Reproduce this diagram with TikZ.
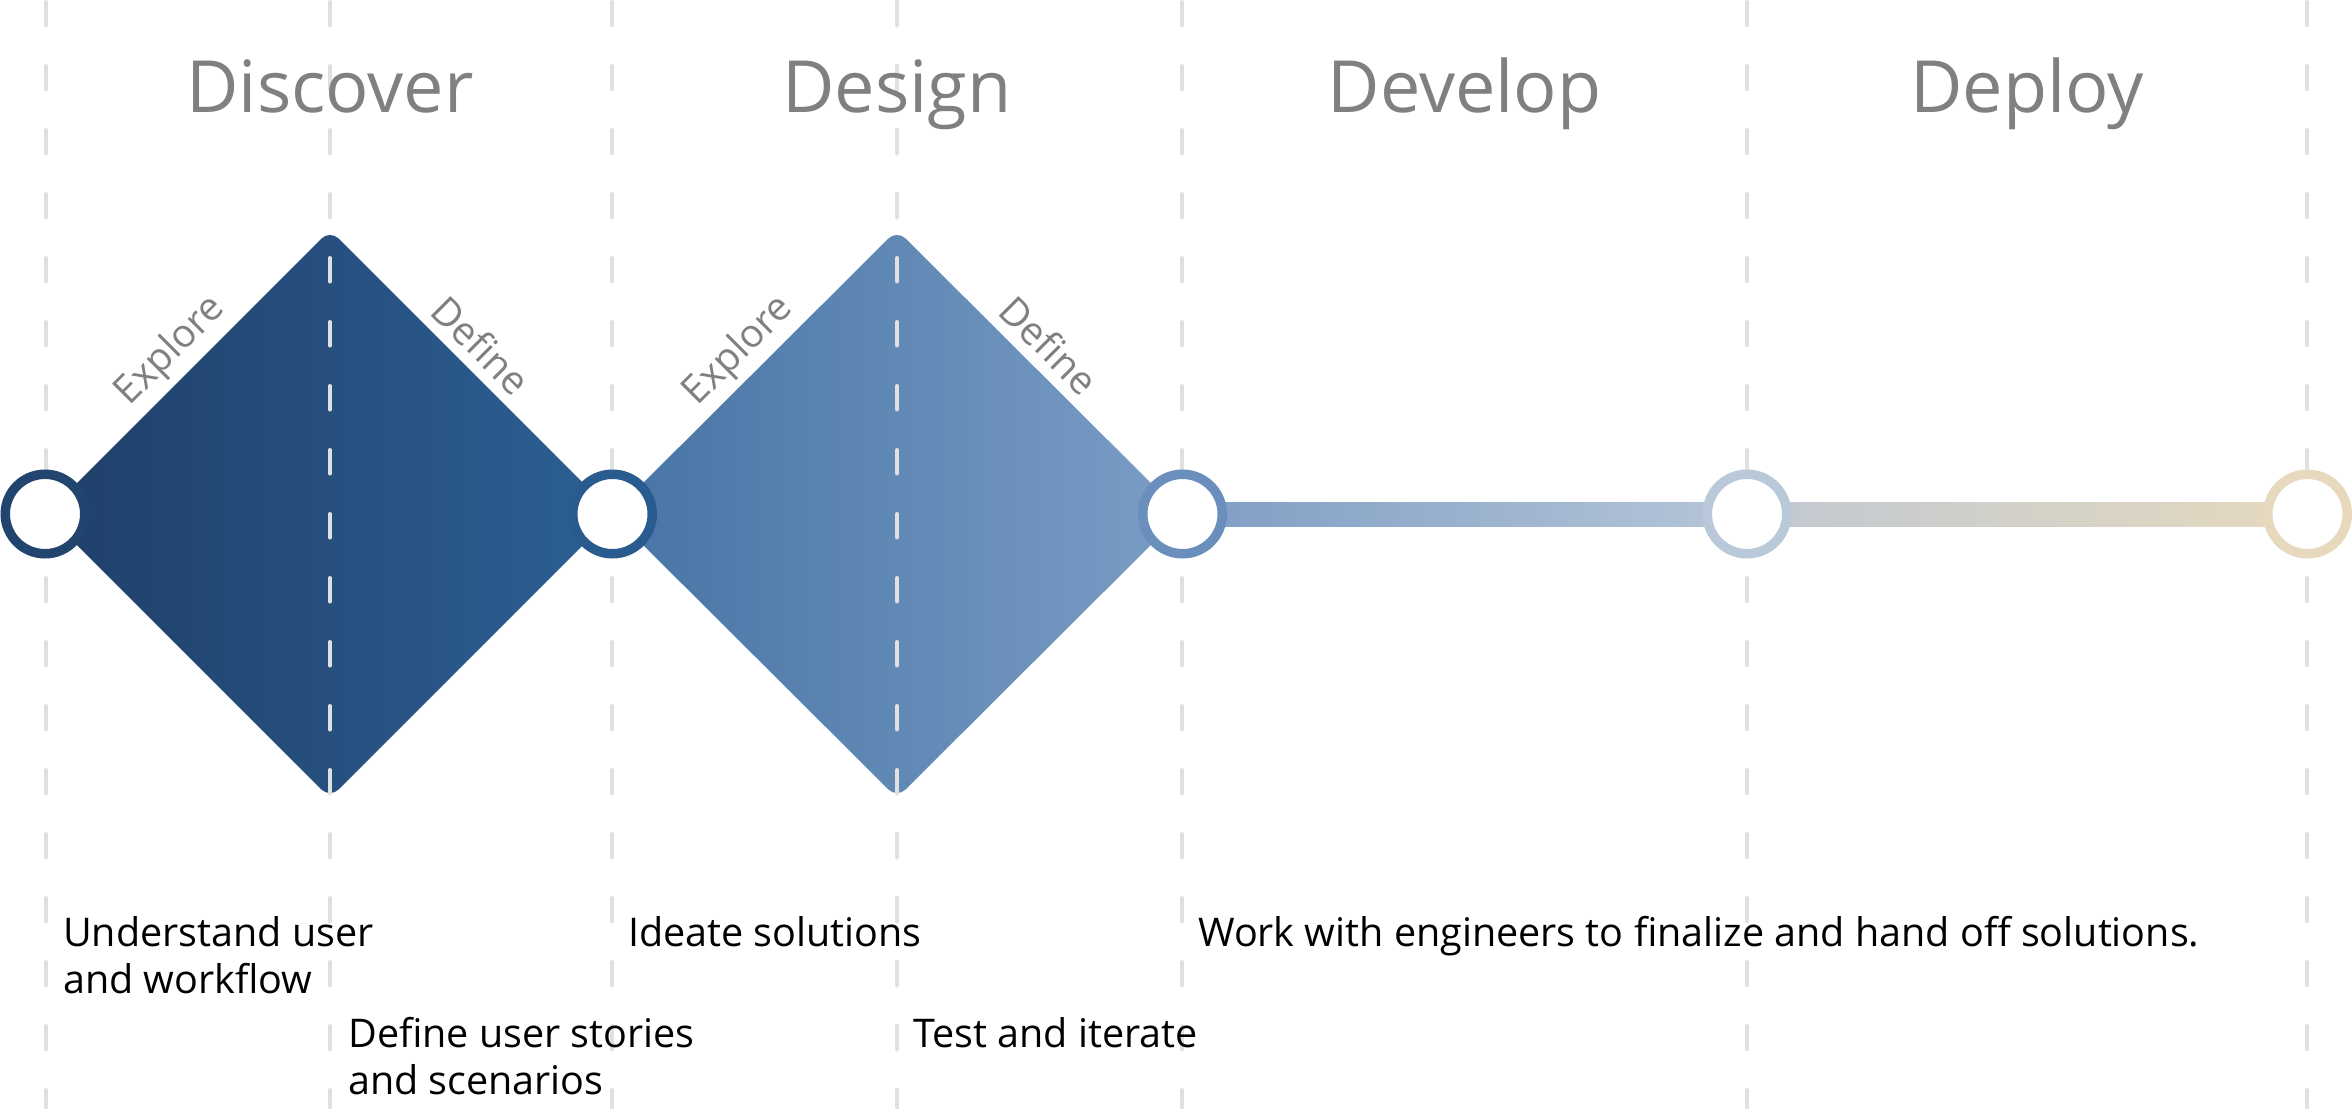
\documentclass[tikz,border=0pt]{standalone}
\usepackage{fontspec}
\setmainfont{Open Sans}
\usetikzlibrary{calc,backgrounds}
\definecolor{dOneL}{HTML}{1F3F68}
\definecolor{dOneR}{HTML}{2D6095}
\definecolor{dTwoL}{HTML}{4674A5}
\definecolor{dTwoR}{HTML}{7B9DC5}
\definecolor{bOneL}{HTML}{7E9DC4}
\definecolor{bOneR}{HTML}{B6C6D8}
\definecolor{bTwoL}{HTML}{C0C8D2}
\definecolor{bTwoR}{HTML}{E6D9BE}
\definecolor{rOne}{HTML}{21456E}
\definecolor{rTwo}{HTML}{2A5B8E}
\definecolor{rThree}{HTML}{6A8FBD}
\definecolor{rFour}{HTML}{B9C9DA}
\definecolor{rFive}{HTML}{E6D9BE}
\definecolor{guideC}{HTML}{E0E0E0}
\definecolor{labelC}{HTML}{808080}
\begin{document}
\begin{tikzpicture}[x=1pt,y=-1pt,
 guide/.style={draw=guideC, line width=3.5pt, line cap=round, dash pattern=on 24pt off 40pt},
 ring/.style={circle, draw, fill=white, line width=9.5pt, minimum size=79.5pt, inner sep=0pt, outer sep=0pt},
 phase/.style={text=labelC, font=\fontsize{72}{86}\selectfont, inner sep=0pt, anchor=base},
 sub/.style={text=labelC, font=\fontsize{39}{46}\selectfont, inner sep=0pt},
 desc/.style={text=black, font=\fontsize{39.5}{47}\selectfont, inner sep=0pt, anchor=base west, align=left}]
\useasboundingbox (0,0) rectangle (2352,1108);

% ring nodes
\node[ring, draw=rOne]   (n1) at (45,514) {};
\node[ring, draw=rTwo]   (n2) at (612.5,514) {};
\node[ring, draw=rThree] (n3) at (1182.5,514) {};
\node[ring, draw=rFour]  (n4) at (1747,514) {};
\node[ring, draw=rFive]  (n5) at (2307.5,514) {};

\begin{pgfonlayer}{background}
  \shade[left color=dOneL, right color=dOneR, rounded corners=12pt]
    (46,514) -- (330,230) -- (614,514) -- (330,798) -- cycle;
  \shade[left color=dTwoL, right color=dTwoR, rounded corners=12pt]
    (612,514) -- (897,230) -- (1182,514) -- (897,798) -- cycle;
  \foreach \x in {46,330,612,897,1182,1747,2307}
    \path[guide] (\x,1.75) -- (\x,1108);
  \shade[left color=bOneL, right color=bOneR] ([yshift=12pt]n3.center) rectangle ([yshift=-12pt]n4.center);
  \shade[left color=bTwoL, right color=bTwoR] ([yshift=12pt]n4.center) rectangle ([yshift=-12pt]n5.center);
\end{pgfonlayer}

% phase titles
\node[phase] (h1) at (330,112) {Discover};
\node[phase] (h2) at (897,112) {Design};
\node[phase] (h3) at (1464.5,112) {Develop};
\node[phase] (h4) at (2027,112) {Deploy};

% diamond edge labels
\node[sub, rotate=45]  (e1) at (171,351) {Explore};
\node[sub, rotate=-45] (f1) at (481,345) {Define};
\node[sub, rotate=45]  (e2) at (739,351) {Explore};
\node[sub, rotate=-45] (f2) at (1049,345) {Define};

% descriptions (base = last line)
\node[desc] (t1) at (63,993) {Understand user\\and workflow};
\node[desc] (t2) at (348,1094) {Define user stories\\and scenarios};
\node[desc] (t3) at (628,946) {Ideate solutions};
\node[desc] (t4) at (913,1047) {Test and iterate};
\node[desc] (t5) at (1198,946) {Work with engineers to finalize and hand off solutions.};
\end{tikzpicture}
\end{document}
